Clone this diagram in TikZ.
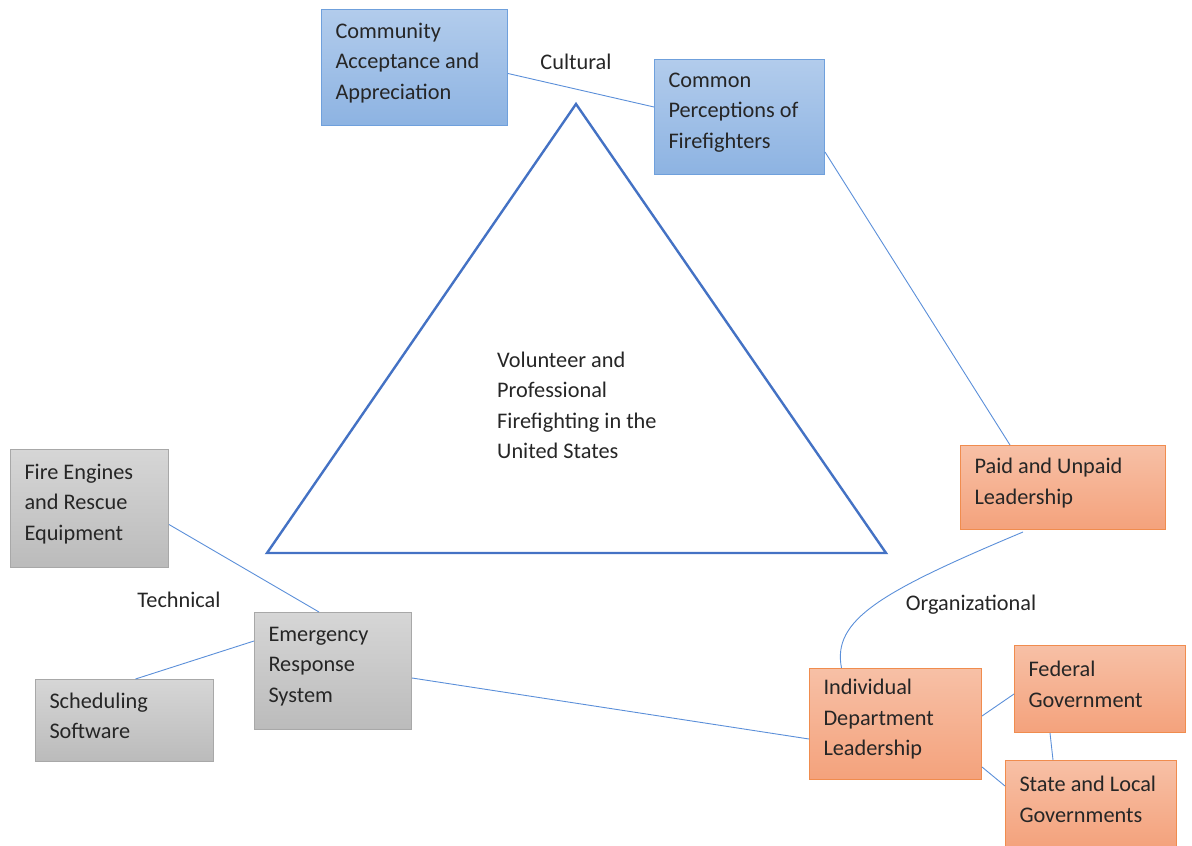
\documentclass[tikz,border=0pt]{standalone}
\usepackage{fontspec}
\setmainfont{Carlito}
\usepackage{xcolor}
\usepackage{tikz}

\definecolor{cultTop}{HTML}{B2CCEC}
\definecolor{cultBot}{HTML}{8DB3E2}
\definecolor{cultLine}{HTML}{6FA0DC}
\definecolor{orgTop}{HTML}{F7C0A6}
\definecolor{orgBot}{HTML}{F4A27C}
\definecolor{orgLine}{HTML}{F08C4E}
\definecolor{techTop}{HTML}{D6D6D6}
\definecolor{techBot}{HTML}{BBBBBB}
\definecolor{techLine}{HTML}{A8A8A8}
\definecolor{linkBlue}{HTML}{5B8FD9}
\definecolor{triBlue}{HTML}{4472C4}

\begin{document}
\begin{tikzpicture}[x=1pt, y=-1pt,
    every node/.style={font=\fontsize{22.3}{30.5}\selectfont, text=black!85},
    box/.style={draw, line width=1pt, anchor=north west, align=flush left,
      inner xsep=14pt, inner ysep=0pt, execute at end node={\endgraf\vspace{9pt}}},
    cult/.style={box, draw=cultLine, top color=cultTop, bottom color=cultBot},
    org/.style={box, draw=orgLine, top color=orgTop, bottom color=orgBot},
    tech/.style={box, draw=techLine, top color=techTop, bottom color=techBot},
    link/.style={draw=linkBlue, line width=0.9pt},
    tag/.style={inner sep=0pt}]
  \useasboundingbox (0,0) rectangle (1192,846);

  %% Central triangle
  \draw[triBlue, line width=2.4pt, line join=miter] (576,104) -- (886,553) -- (267,553) -- cycle;
  \node[tag, anchor=west, align=left] (core) at (497,405.5)
    {Volunteer and\\Professional\\Firefighting in the\\United States};

  %% Cultural corner
  \node[cult, text width=158pt, minimum height=116pt] (ca) at (321,9)
    {Community\\Acceptance and\\Appreciation};
  \node[cult, text width=142pt, minimum height=115pt] (cp) at (654,59)
    {Common\\Perceptions of\\Firefighters};
  \node[tag] (cultural) at (576,62) {Cultural};

  %% Organizational corner
  \node[org, text width=177pt, minimum height=84pt] (pu) at (960,445)
    {Paid and Unpaid\\Leadership};
  \node[org, text width=144pt, minimum height=111pt] (idl) at (809,668)
    {Individual\\Department\\Leadership};
  \node[org, text width=143pt, minimum height=87pt] (fg) at (1014,645)
    {Federal\\Government};
  \node[org, text width=143pt, minimum height=87pt] (slg) at (1005,760)
    {State and~Local\\Governments};
  \node[tag] (organizational) at (971,605) {Organizational};

  %% Technical corner
  \node[tech, text width=130pt, minimum height=118pt] (fe) at (10,449)
    {Fire Engines\\and Rescue\\Equipment};
  \node[tech, text width=129pt, minimum height=117pt] (ers) at (254,612)
    {Emergency\\Response\\System};
  \node[tech, text width=150pt, minimum height=82pt] (ss) at (35,679)
    {Scheduling\\Software};
  \node[tag] (technical) at (179,600) {Technical};

  %% Connectors
  \draw[link] ([yshift=-6pt]ca.east) -- ([yshift=10pt]cp.west);
  \draw[link] ([yshift=-35pt]cp.east) -- ([xshift=-53pt]pu.north);
  \draw[link] ([xshift=-40pt,yshift=-2pt]pu.south) .. controls (880,592) and (832,620) .. ([xshift=-54pt]idl.north);
  \draw[link] ([yshift=-16pt]fe.east) -- ([xshift=-14pt]ers.north);
  \draw[link] ([xshift=11pt]ss.north) -- ([yshift=30pt]ers.west);
  \draw[link] ([yshift=-7pt]ers.east) -- ([yshift=-15pt]idl.west);
  \draw[link] ([yshift=8pt]idl.east) -- ([yshift=-5pt]fg.west);
  \draw[link] ([yshift=-43pt]idl.east) -- ([yshift=18pt]slg.west);
  \draw[link] ([xshift=-50pt]fg.south) -- ([xshift=-38pt]slg.north);
\end{tikzpicture}
\end{document}
